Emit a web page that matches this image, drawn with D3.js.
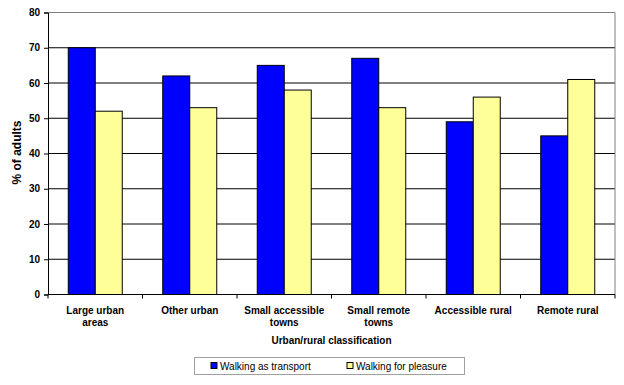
<!DOCTYPE html>
<html>
<head>
<meta charset="utf-8">
<script src="https://cdn.jsdelivr.net/npm/d3@7"></script>
<style>
  body { margin: 0; background: #fff; }
  text { font-family: "Liberation Sans", Arial, sans-serif; }
</style>
</head>
<body>
<svg id="chart"></svg>
<script>
const categories = [
  ["Large urban", "areas"],
  ["Other urban"],
  ["Small accessible", "towns"],
  ["Small remote", "towns"],
  ["Accessible rural"],
  ["Remote rural"]
];
const seriesNames = ["Walking as transport", "Walking for pleasure"];
const transport = [70, 62, 65, 67, 49, 45];
const pleasure = [52, 53, 58, 53, 56, 61];
const yTicks = [0, 10, 20, 30, 40, 50, 60, 70, 80];
const colors = ["#0000ff", "#ffff99"];

const W = 624, H = 385;
const margin = { top: 12.5, left: 48, right: 9, bottom: 90.5 };
const width = W - margin.left - margin.right;
const height = H - margin.top - margin.bottom;

const svg = d3.select("#chart").attr("width", W).attr("height", H);
const g = svg.append("g").attr("transform", `translate(${margin.left},${margin.top})`);

const keys = categories.map((c) => c.join(" "));
const x0 = d3.scaleBand().domain(keys).range([0, width]).paddingInner(0).paddingOuter(0);
const x1 = d3.scaleBand().domain(seriesNames).range([x0.bandwidth() * 1.5 / 7, x0.bandwidth() * 5.5 / 7]);
const y = d3.scaleLinear().domain([0, 80]).range([height, 0]);

// gridlines
g.selectAll("line.grid")
  .data(yTicks.filter((t) => t > 0 && t < 80))
  .join("line")
  .attr("class", "grid")
  .attr("x1", 0).attr("x2", width)
  .attr("y1", (d) => y(d)).attr("y2", (d) => y(d))
  .attr("stroke", "#000").attr("stroke-width", 1);

// plot border (top/right grey)
g.append("path")
  .attr("d", `M0,${y(80)}H${width}V${y(0)}`)
  .attr("fill", "none").attr("stroke", "#808080").attr("stroke-width", 1);

const data = keys.map((k, i) => ({ key: k, values: [transport[i], pleasure[i]] }));

const groups = g.selectAll("g.cat").data(data).join("g")
  .attr("class", "cat")
  .attr("transform", (d) => `translate(${x0(d.key)},0)`);

groups.selectAll("rect")
  .data((d) => d.values.map((v, j) => ({ name: seriesNames[j], value: v, j })))
  .join("rect")
  .attr("x", (d) => x1(d.name))
  .attr("width", x1.bandwidth())
  .attr("y", (d) => y(d.value))
  .attr("height", (d) => y(0) - y(d.value))
  .attr("fill", (d) => colors[d.j])
  .attr("stroke", "#000").attr("stroke-width", 1);

// y axis
const yAxis = d3.axisLeft(y).tickValues(yTicks).tickSize(4).tickPadding(4);
const gy = g.append("g").call(yAxis);
gy.select(".domain").attr("stroke", "#000");
gy.selectAll("text").attr("font-size", 10).attr("font-weight", "bold").attr("fill", "#000");

// x axis
const xTicks = d3.range(categories.length + 1).map((i) => i * x0.step());
const gx = g.append("g").attr("transform", `translate(0,${height})`);
gx.append("line").attr("x1", 0).attr("x2", width).attr("stroke", "#000");
gx.selectAll("line.tick")
  .data(xTicks)
  .join("line")
  .attr("class", "tick")
  .attr("x1", (d) => d).attr("x2", (d) => d)
  .attr("y1", 0).attr("y2", 4)
  .attr("stroke", "#000");

gx.selectAll("text.cat")
  .data(categories)
  .join("text")
  .attr("class", "cat")
  .attr("x", (d, i) => x0(keys[i]) + x0.bandwidth() / 2)
  .attr("y", 19)
  .attr("text-anchor", "middle")
  .attr("font-size", 10).attr("font-weight", "bold")
  .selectAll("tspan")
  .data((d) => d)
  .join("tspan")
  .attr("x", function () { return d3.select(this.parentNode).attr("x"); })
  .attr("dy", (d, i) => (i === 0 ? 0 : 12.7))
  .text((d) => d);

// axis titles
g.append("text")
  .attr("x", width / 2).attr("y", height + 49)
  .attr("text-anchor", "middle")
  .attr("font-size", 10).attr("font-weight", "bold")
  .text("Urban/rural classification");

g.append("text")
  .attr("transform", `translate(${-27},${height / 2 - 1}) rotate(-90)`)
  .attr("text-anchor", "middle")
  .attr("font-size", 12).attr("font-weight", "bold")
  .text("% of adults");

// legend
const legend = svg.append("g").attr("transform", "translate(194.5,357.5)");
legend.append("rect")
  .attr("width", 270).attr("height", 17)
  .attr("fill", "#fff").attr("stroke", "#a0a0a0");
const itemX = [16.5, 152.5];
const items = legend.selectAll("g.item").data(seriesNames).join("g")
  .attr("class", "item")
  .attr("transform", (d, i) => `translate(${itemX[i]},5)`);
items.append("rect")
  .attr("width", 6).attr("height", 6)
  .attr("fill", (d, i) => colors[i]).attr("stroke", "#000");
items.append("text")
  .attr("x", 9).attr("y", 7)
  .attr("font-size", 10)
  .text((d) => d);
</script>
</body>
</html>
